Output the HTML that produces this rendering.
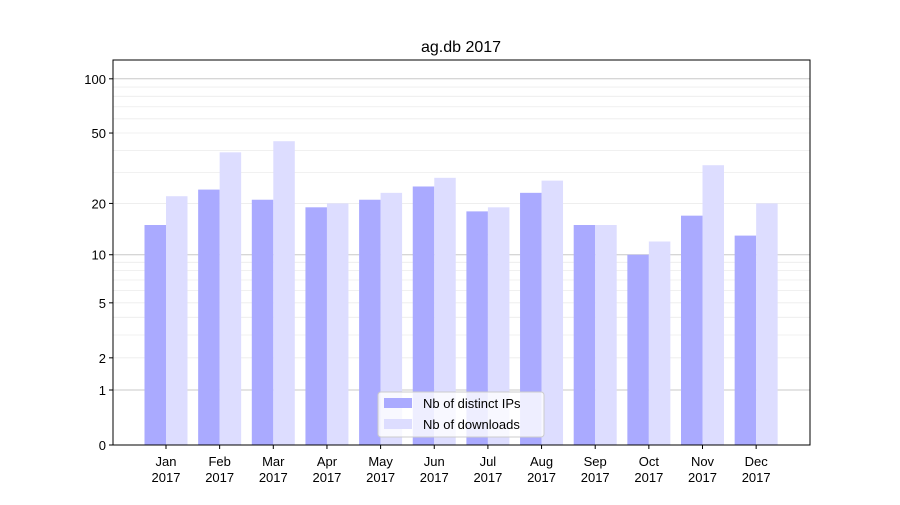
<!DOCTYPE html>
<html><head><meta charset="utf-8"><style>
body{margin:0;background:#fff;}
svg text{font-family:"Liberation Sans","DejaVu Sans",sans-serif;fill:#000;}
</style></head><body>
<svg id="chart" width="900" height="500">
<rect x="0" y="0" width="900" height="500" fill="#fff"/>
<text x="461" y="52" font-size="16" text-anchor="middle">ag.db 2017</text>
<g id="grid"></g><g id="bars"></g><g id="axes"></g>
</svg>
<script>
const categories=["Jan","Feb","Mar","Apr","May","Jun","Jul","Aug","Sep","Oct","Nov","Dec"];
const ips=[15,24,21,19,21,25,18,23,15,10,17,13];
const downloads=[22,39,45,20,23,28,19,27,15,12,33,20];
const yTicks=[0,1,2,5,10,20,50,100];
const NS="http://www.w3.org/2000/svg";
const L=113,R=810,T=60,B=445;
function y(v){return B-182.7*Math.log10(v+1);}
function xc(i){return 166+i*53.65;}
function mk(tag,attrs,parent){const e=document.createElementNS(NS,tag);for(const k in attrs)e.setAttribute(k,attrs[k]);parent.appendChild(e);return e;}
const grid=document.getElementById('grid'),bars=document.getElementById('bars'),axes=document.getElementById('axes');
for(let d=1;d<=100;d*=10){for(let m=1;m<10;m++){const v=d*m;if(v>120)break;const yy=y(v);
const g=mk('line',{x1:L,x2:R,y1:yy,y2:yy,stroke:m==1?'#c8c8c8':'#ececec','stroke-width':m==1?1:0.8},grid);

}}
categories.forEach((c,i)=>{
const b1=mk('rect',{x:xc(i)-21.5,y:y(ips[i]),width:21.5,height:B-y(ips[i]),fill:'#aaaaff'},bars);


const b2=mk('rect',{x:xc(i),y:y(downloads[i]),width:21.5,height:B-y(downloads[i]),fill:'#ddddff'},bars);


mk('line',{x1:xc(i),x2:xc(i),y1:B,y2:B+4,stroke:'#000'},axes);
const t=mk('text',{x:xc(i),y:B+21,'font-size':13,'text-anchor':'middle'},axes);
t.textContent=c;


const t2=mk('text',{x:xc(i),y:B+37,'font-size':13,'text-anchor':'middle'},axes);
t2.textContent='2017';


});
yTicks.forEach(v=>{const yy=y(v);
mk('line',{x1:L-4,x2:L,y1:yy,y2:yy,stroke:'#000'},axes);
const t=mk('text',{x:L-7,y:yy+5,'font-size':13,'text-anchor':'end'},axes);
t.textContent=v;

});
const fr=mk('rect',{x:L,y:T,width:R-L,height:B-T,fill:'none',stroke:'#000','stroke-width':1},axes);


const lg=mk('g',{},axes);


mk('rect',{x:378,y:392,width:166,height:45,rx:3,fill:'#fff','fill-opacity':0.8,stroke:'#ccc'},lg);
mk('rect',{x:384,y:398,width:28,height:10,fill:'#aaaaff'},lg);
mk('rect',{x:384,y:419,width:28,height:10,fill:'#ddddff'},lg);
const l1=mk('text',{x:423,y:408,'font-size':13},lg);l1.textContent='Nb of distinct IPs';


const l2=mk('text',{x:423,y:429,'font-size':13},lg);l2.textContent='Nb of downloads';


</script>
</body></html>
